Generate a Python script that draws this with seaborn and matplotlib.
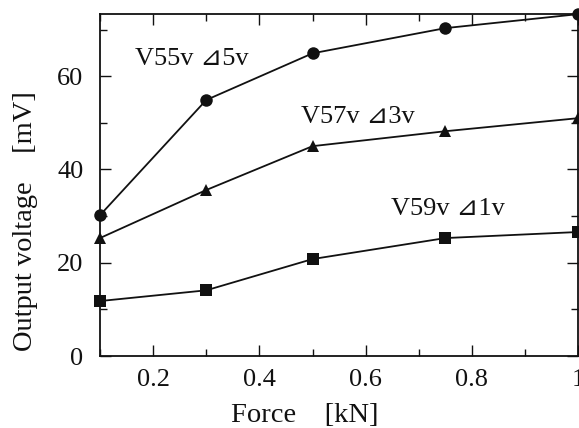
import numpy as np
import pandas as pd
import matplotlib
matplotlib.use("Agg")
import matplotlib.pyplot as plt
from matplotlib.ticker import MultipleLocator, FuncFormatter
import seaborn as sns

# Data
force = [0.1, 0.3, 0.5, 0.75, 1.0]
v55 = [30.2, 54.9, 64.9, 70.3, 73.3]
v57 = [25.3, 35.6, 45.0, 48.2, 51.0]
v59 = [11.8, 14.1, 20.8, 25.3, 26.6]
series_labels = ["V55v ⊿5v", "V57v ⊿3v", "V59v ⊿1v"]

df = pd.DataFrame({
    "force": force * 3,
    "voltage": v55 + v57 + v59,
    "series": [series_labels[0]] * 5 + [series_labels[1]] * 5 + [series_labels[2]] * 5,
})

sns.set_theme(style="ticks")
plt.rcParams["font.family"] = ["Liberation Serif", "DejaVu Sans", "Noto Sans CJK JP"]

fig = plt.figure(figsize=(5.79, 4.28), dpi=100)
ax = fig.add_axes([0.1727, 0.168, 0.826, 0.799])

sns.lineplot(
    data=df, x="force", y="voltage", hue="series", style="series",
    palette={s: "#111111" for s in series_labels},
    markers={series_labels[0]: "o", series_labels[1]: "^", series_labels[2]: "s"},
    dashes=False, markersize=9, linewidth=1.3, markeredgewidth=0,
    legend=False, ax=ax, clip_on=False,
)

ax.set_xlim(0.1, 1.0)
ax.set_ylim(0, 73.3)

ax.xaxis.set_major_locator(MultipleLocator(0.2))
ax.xaxis.set_minor_locator(MultipleLocator(0.1))
ax.yaxis.set_major_locator(MultipleLocator(20))
ax.yaxis.set_minor_locator(MultipleLocator(10))
ax.xaxis.set_major_formatter(FuncFormatter(lambda v, p: f"{v:g}"))

ax.tick_params(which="both", direction="in", top=True, right=True,
               colors="#111111", width=1.0)
ax.tick_params(which="major", length=8, labelsize=19, pad=9)
ax.tick_params(which="minor", length=5)
ax.tick_params(axis="y", which="major", pad=12)

for sp in ax.spines.values():
    sp.set_color("#111111")
    sp.set_linewidth(1.3)

ax.set_xlabel("Force    [kN]", fontsize=20.5, color="#111111")
ax.set_ylabel("Output voltage    [mV]", fontsize=20.5, color="#111111")
ax.xaxis.set_label_coords(0.428, -0.137)
ax.yaxis.set_label_coords(-0.129, 0.395)

txt_kw = dict(fontsize=19, color="#111111", ha="left", va="baseline")
ax.text(0.165, 62.4, series_labels[0], **txt_kw)
ax.text(0.478, 49.9, series_labels[1], **txt_kw)
ax.text(0.648, 30.2, series_labels[2], **txt_kw)

fig.savefig("out.png", dpi=100)
